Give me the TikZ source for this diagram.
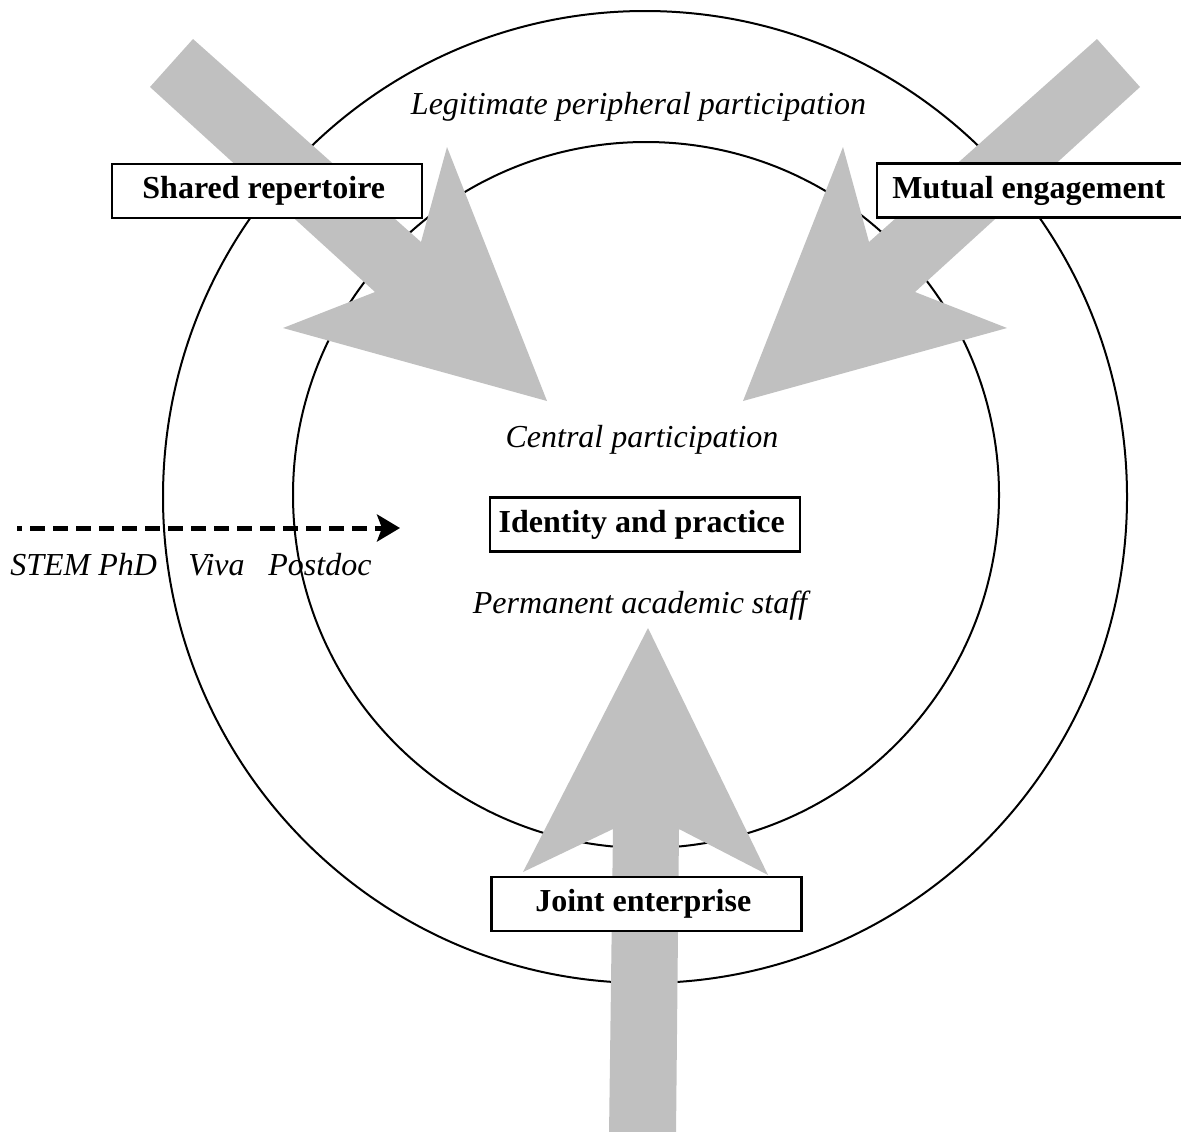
\documentclass[tikz,border=0pt]{standalone}
\usepackage{fontspec}
\setmainfont{Liberation Serif}
\usetikzlibrary{arrows.meta}
\definecolor{arrowgrey}{RGB}{192, 192, 192}
\tikzset{
	labelbox/.style={draw=black, line width=1.15pt, fill=white, minimum width=155pt, minimum height=27pt, inner sep=0pt,
		font=\fontsize{16}{19}\selectfont\bfseries, execute at end node=\hspace{3.25pt}},
	stage/.style={font=\fontsize{16}{19}\selectfont\itshape, inner sep=0pt, anchor=base}
}

\begin{document}
\begin{tikzpicture}[x=0.5pt, y=-0.5pt]
			\useasboundingbox (0, 0) rectangle (1181, 1131);
			% the two rings
			\draw [line width=1pt] (645, 497) ellipse [x radius=482, y radius=486];
			\draw [line width=1pt] (646, 495) circle [radius=353];
			% the three grey block arrows
			\fill [arrowgrey] (193, 39) -- (421, 242) -- (447, 147) -- (547, 401) -- (283, 328) -- (375, 292) -- (150, 87) -- cycle;
			\fill [arrowgrey] (1097, 39) -- (869, 242) -- (843, 147) -- (743, 401) -- (1007, 328) -- (915, 292) -- (1140, 87) -- cycle;
			\fill [arrowgrey] (609, 1135) -- (613, 829) -- (523, 872) -- (648, 628) -- (768, 875) -- (679, 829) -- (676, 1135) -- cycle;
			% boxes
			\node [labelbox] (shared) at (267, 191) {Shared repertoire};
			\node [labelbox] (mutual) at (1032, 190.5) {Mutual engagement};
			\node [labelbox] (identity) at (645, 524.5) {Identity and practice};
			\node [labelbox] (joint) at (646.5, 904) {Joint enterprise};
			% stages
			\node [stage] (legitimate) at (638.5, 114) {Legitimate peripheral participation};
			\node [stage] (central) at (642, 447) {Central participation};
			\node [stage] (permanent) at (640, 613) {Permanent academic staff};
			\node [stage, anchor=base west] (phd) at (10, 575) {STEM PhD};
			\node [stage, anchor=base west] (viva) at (188, 575) {Viva};
			\node [stage, anchor=base west] (postdoc) at (268, 575) {Postdoc};
			% career path
			\coordinate (pathstart) at (17, 528);
			\coordinate (pathend) at (400, 528);
			\draw [line width=2.5pt, dash pattern=on 7.5pt off 4pt, dash phase=5pt, -{Stealth[length=11.5pt, width=13.5pt, inset=2.5pt]}] (pathstart) -- (pathend);
		\end{tikzpicture}
\end{document}
